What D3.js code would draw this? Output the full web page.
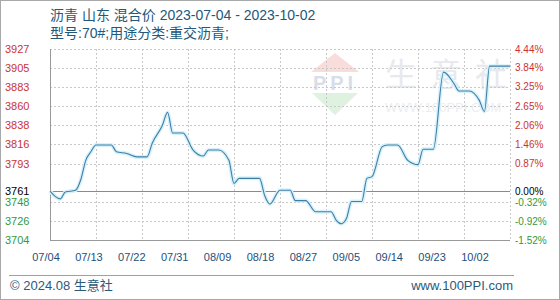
<!DOCTYPE html>
<html>
<head>
<meta charset="utf-8">
<script src="https://cdn.jsdelivr.net/npm/d3@7/dist/d3.min.js"></script>
<style>
  body { margin: 0; background: #fff; }
  text { font-family: "Liberation Sans", Arial, "Noto Sans CJK SC", sans-serif; }
</style>
</head>
<body>
<div id="chart"></div>
<script>
// price data (date, value)
var dates = ["2023-07-04","2023-07-05","2023-07-06","2023-07-07","2023-07-09","2023-07-10","2023-07-11",
  "2023-07-12","2023-07-13","2023-07-16","2023-07-17","2023-07-19","2023-07-21","2023-07-23","2023-07-24",
  "2023-07-26","2023-07-27","2023-07-28","2023-07-30","2023-08-01","2023-08-03","2023-08-04","2023-08-06",
  "2023-08-08","2023-08-09","2023-08-10","2023-08-14","2023-08-15","2023-08-16","2023-08-18","2023-08-20",
  "2023-08-21","2023-08-23","2023-08-25","2023-08-28","2023-08-29","2023-08-30","2023-08-31","2023-09-01",
  "2023-09-03","2023-09-04","2023-09-05","2023-09-07","2023-09-08","2023-09-10","2023-09-12","2023-09-14",
  "2023-09-15","2023-09-17","2023-09-19","2023-09-21","2023-09-22","2023-09-24","2023-09-26","2023-09-27",
  "2023-09-28","2023-10-02"];
var prices = [3761,3755,3752,3760,3762,3774,3797,
  3807,3815,3815,3807,3805,3801,3801,3817,
  3838,3853,3829,3829,3809,3802,3809,3809,
  3797,3770,3776,3776,3756,3746,3762,3762,
  3750,3750,3737,3737,3727,3723,3729,3749,
  3749,3776,3778,3813,3815,3815,3797,3792,
  3810,3810,3900,3887,3878,3878,3867,3854,
  3907,3907];

// axis labels
var priceTicks = [3927,3905,3883,3860,3838,3816,3793,3761,3748,3726,3704];
var pctTicks = ["4.44%","3.84%","3.25%","2.65%","2.06%","1.46%","0.87%","0.00%","-0.32%","-0.92%","-1.52%"];
var xLabels = ["07/04","07/13","07/22","07/31","08/09","08/18","08/27","09/05","09/14","09/23","10/02"];
var basePrice = 3761;

var W = 560, H = 300;
var margin = {top: 49, bottom: 60, left: 50, right: 50};
var width = W - margin.left - margin.right,
    height = H - margin.top - margin.bottom;

var parseDate = d3.timeParse("%Y-%m-%d");
var data = dates.map(function(d, i) { return {date: parseDate(d), value: prices[i]}; });

var svg = d3.select("#chart").append("svg")
    .attr("width", W).attr("height", H);

// outer frame
svg.append("rect").attr("x", 0.5).attr("y", 0.5).attr("width", W - 1).attr("height", H - 1)
    .attr("fill", "#fff").attr("stroke", "#a8a8a8");

// title
svg.append("text").attr("x", 50).attr("y", 20).attr("font-size", 14).attr("fill", "#22587a")
    .text("沥青 山东 混合价 2023-07-04 - 2023-10-02");
svg.append("text").attr("x", 50).attr("y", 38).attr("font-size", 14).attr("fill", "#22587a")
    .text("型号:70#;用途分类:重交沥青;");

var g = svg.append("g").attr("transform", "translate(" + margin.left + "," + margin.top + ")");

var x = d3.scaleTime()
    .domain([parseDate(dates[0]), parseDate(dates[dates.length - 1])])
    .range([0, width]);
var y = d3.scaleLinear()
    .domain([priceTicks[priceTicks.length - 1], priceTicks[0]])
    .range([height, 0]);

// watermark
var wm = g.append("g").attr("opacity", 0.55);
wm.append("path").attr("d", "M285,4 L309,23 L261,23 Z").attr("fill", "#f3c3bd");
wm.append("text").attr("x", 285).attr("y", 41).attr("text-anchor", "middle")
    .attr("font-size", 20).attr("font-weight", "bold").attr("fill", "#b8c4d6")
    .attr("letter-spacing", 4).text("PPI");
wm.append("path").attr("d", "M262,44 L308,44 L285,66 Z").attr("fill", "#c6e6c6");
wm.selectAll(".wmch").data(["生", "意", "社"]).enter().append("text")
    .attr("x", function(d, i) { return 351 + i * 45; }).attr("y", 37)
    .attr("text-anchor", "middle").attr("font-size", 32)
    .attr("font-family", "Noto Sans CJK SC").attr("fill", "#d4d8e2")
    .text(function(d) { return d; });
wm.append("text").attr("x", 335).attr("y", 63).attr("font-size", 13)
    .attr("fill", "#dcdfe6").text("WWW.100PPI.COM");

// horizontal grid
g.selectAll(".hgrid").data(priceTicks.filter(function(d) { return d !== basePrice; }))
  .enter().append("line")
    .attr("x1", 0).attr("x2", width)
    .attr("y1", function(d) { return Math.round(y(d)) + 0.5; })
    .attr("y2", function(d) { return Math.round(y(d)) + 0.5; })
    .attr("stroke", "#c8c8c8").attr("stroke-dasharray", "2,2");

// vertical grid every 9 days
var vTicks = d3.range(0, 11).map(function(i) { return d3.timeDay.offset(x.domain()[0], i * 9); });
g.selectAll(".vgrid").data(vTicks).enter().append("line")
    .attr("x1", function(d) { return Math.round(x(d)) + 0.5; })
    .attr("x2", function(d) { return Math.round(x(d)) + 0.5; })
    .attr("y1", 0).attr("y2", height)
    .attr("stroke", "#c8c8c8").attr("stroke-dasharray", "2,2");

// left and bottom border
g.append("line").attr("x1", 0.5).attr("x2", 0.5).attr("y1", 0).attr("y2", height).attr("stroke", "#999");
g.append("line").attr("x1", 0).attr("x2", width).attr("y1", height + 0.5).attr("y2", height + 0.5).attr("stroke", "#999");

// base line
g.append("line").attr("x1", 0).attr("x2", width)
    .attr("y1", Math.round(y(basePrice)) + 0.5).attr("y2", Math.round(y(basePrice)) + 0.5)
    .attr("stroke", "#8a8a8a");

// price line
var line = d3.line()
    .curve(d3.curveMonotoneX)
    .x(function(d) { return x(d.date); })
    .y(function(d) { return y(d.value); });

g.append("path").datum(data).attr("d", line)
    .attr("fill", "none").attr("stroke", "#d6f1fb").attr("stroke-width", 4);
g.append("path").datum(data).attr("d", line)
    .attr("fill", "none").attr("stroke", "#3f7fa6").attr("stroke-width", 1.1);

// axis labels
function tickColor(v) { return v > basePrice ? "#cc3333" : (v < basePrice ? "#33993a" : "#000"); }

svg.selectAll(".ylab").data(priceTicks).enter().append("text")
    .attr("x", 5).attr("y", function(d) { return margin.top + y(d); })
    .attr("dy", "0.35em").attr("font-size", 11)
    .attr("fill", tickColor).text(function(d) { return d; });

svg.selectAll(".plab").data(pctTicks).enter().append("text")
    .attr("x", margin.left + width + 5).attr("y", function(d, i) { return margin.top + y(priceTicks[i]); })
    .attr("dy", "0.35em").attr("font-size", 10).attr("font-family", "DejaVu Sans Mono")
    .attr("fill", function(d, i) { return tickColor(priceTicks[i]); })
    .text(function(d) { return d; });

var xl = d3.scalePoint().domain(xLabels).range([46, 475]);
svg.selectAll(".xlab").data(xLabels).enter().append("text")
    .attr("x", function(d) { return xl(d); }).attr("y", 261)
    .attr("text-anchor", "middle").attr("font-size", 11).attr("fill", "#1f4f78")
    .text(function(d) { return d; });

// footer
svg.append("line").attr("x1", 9).attr("x2", 514).attr("y1", 275.5).attr("y2", 275.5).attr("stroke", "#a0a0a0");
svg.append("text").attr("x", 10).attr("y", 290).attr("font-size", 13).attr("fill", "#2a5a7a")
    .text("© 2024.08 生意社");
svg.append("text").attr("x", 513).attr("y", 290).attr("text-anchor", "end").attr("font-size", 13)
    .attr("fill", "#2a5a7a").text("www.100PPI.com");
</script>
</body>
</html>
